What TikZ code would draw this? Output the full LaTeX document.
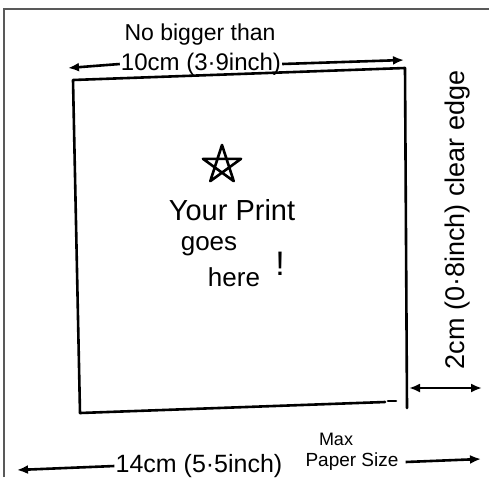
\documentclass[tikz,border=0pt]{standalone}
\usepackage{fontspec}
\setmainfont{Liberation Sans}
\usetikzlibrary{arrows.meta}
\begin{document}
\begin{tikzpicture}[x=1pt, y=-1pt,
    pen/.style={line width=2.6pt, line cap=round, line join=round},
    dim/.style={line width=2.6pt, -{Latex[length=11pt,width=9pt]}},
    hand/.style={font=\fontsize{23}{25}\selectfont, inner sep=1pt}]
    \useasboundingbox (0,0) rectangle (489,477);
    % frame of the scan
    \draw[gray!70!black, line width=1.2pt] (4,477) -- (4,9) -- (489,9);
    % print area
    \draw[pen] (80,413) -- (73,80) -- (405,68) -- (407,408);
    \draw[pen] (80,413) -- (385,402);
    \draw[pen] (388,401) -- (396,401);
    % top dimension
    \node[hand] (top1) at (200,35) {No bigger than};
    \node[hand, font=\fontsize{24}{26}\selectfont] (top2) at (201,64) {10cm (3·9inch)};
    \coordinate (tl) at (68,68);
    \coordinate (tr) at (404,60);
    \draw[dim] (top2.west) -- (tl);
    \draw[dim] (top2.east) -- (tr);
    % clear edge
    \node[hand, rotate=90, font=\fontsize{27}{29}\selectfont] (edge) at (458,220) {2cm (0·8inch) clear edge};
    \coordinate (el) at (409,388);
    \coordinate (er) at (482,388);
    \draw[dim, {Latex[length=11pt,width=9pt]}-{Latex[length=11pt,width=9pt]}] (el) -- (er);
    % bottom dimension
    \node[hand, font=\fontsize{25}{27}\selectfont] (bot) at (199,466) {14cm (5·5inch)};
    \node[hand, font=\fontsize{19}{21}\selectfont] (size) at (352,462) {Paper Size};
    \node[hand, font=\fontsize{18}{20}\selectfont] (max) at (336,439) {Max};
    \coordinate (bl) at (17,470);
    \coordinate (br) at (481,459);
    \draw[dim] (bot.west) -- (bl);
    \draw[dim] (size.east) ++(6,0) -- (br);
    % star
    \draw[pen] (222,165) +(-90:20) -- +(54:20) -- +(198:20) -- +(-18:20) -- +(126:20) -- cycle;
    % message
    \node[hand, font=\fontsize{29}{31}\selectfont] (msg1) at (232,210) {Your Print};
    \node[hand, font=\fontsize{26}{28}\selectfont] (msg2) at (209,246) {goes};
    \node[hand, font=\fontsize{26}{28}\selectfont] (msg3) at (234,277) {here};
    \node[hand, font=\fontsize{34}{36}\selectfont] (bang) at (280,264) {!};
\end{tikzpicture}
\end{document}
